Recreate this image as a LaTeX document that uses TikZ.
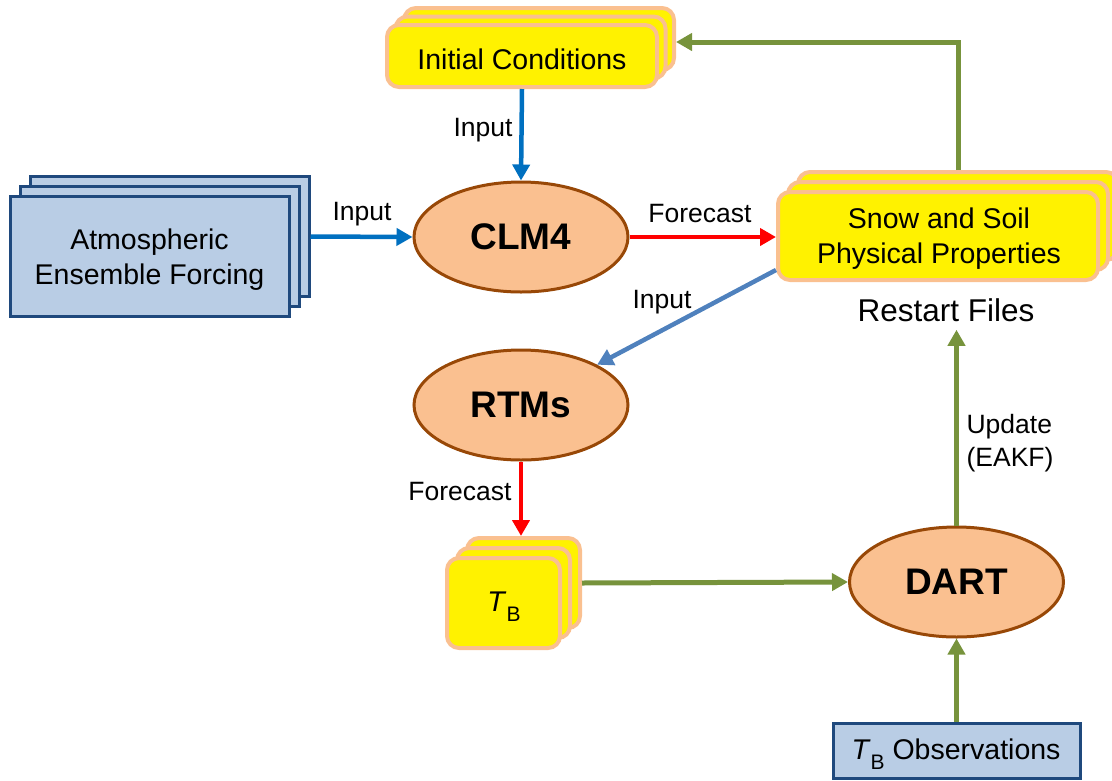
\documentclass[tikz,border=0pt]{standalone}
\usepackage{fontspec}
\setmainfont{Liberation Sans}
\usetikzlibrary{arrows.meta,calc,shapes.geometric}
\definecolor{peach}{RGB}{250,192,144}
\definecolor{brownb}{RGB}{152,72,7}
\definecolor{lblue}{RGB}{185,205,229}
\definecolor{dblue}{RGB}{31,73,125}
\definecolor{abl}{RGB}{0,112,192}
\definecolor{sbl}{RGB}{79,129,189}
\definecolor{agreen}{RGB}{119,147,60}
\definecolor{ared}{RGB}{255,0,0}
\newcommand{\TBsym}{\textit{T}\raisebox{-10pt}{\fontsize{21}{21}\selectfont B}}
\tikzset{
  ybox/.style={draw=peach, fill=yellow, line width=4pt, rounded corners=12pt, inner sep=0pt, align=center},
  bbox/.style={draw=dblue, fill=lblue, line width=3pt, inner sep=0pt, align=center},
  ell/.style={ellipse, draw=brownb, fill=peach, line width=3pt, minimum width=214pt, minimum height=110pt, inner sep=0pt, font=\fontsize{37}{40}\selectfont\bfseries},
  boxfont/.style={font=\fontsize{28.5}{35}\selectfont, inner sep=0pt, align=center},
  lbl/.style={font=\fontsize{26.5}{33}\selectfont, inner sep=0pt},
  arr/.style={line width=4.5pt, -{Triangle[length=16pt,width=17pt]}},
}
\begin{document}
\begin{tikzpicture}[x=1pt,y=-1pt]
\useasboundingbox (0,0) rectangle (1112,780);
% Initial conditions stack
\node[ybox, minimum width=270pt, minimum height=62pt] (ic3) at (539,39) {};
\node[ybox, minimum width=270pt, minimum height=62pt] (ic2) at (530.5,47.5) {};
\node[ybox, minimum width=270pt, minimum height=62pt] (ic) at (522,56) {};
\node[boxfont] (ictxt) at (522,59.5) {Initial Conditions};
% Atmospheric stack
\node[bbox, minimum width=279pt, minimum height=120pt] (atm3) at (169.5,236.5) {};
\node[bbox, minimum width=279pt, minimum height=120pt] (atm2) at (159.5,246.5) {};
\node[bbox, minimum width=279pt, minimum height=120pt] (atm) at (149.5,256.5) {};
\node[boxfont] (atmtxt) at (149.5,259.5) {Atmospheric\\Ensemble Forcing};
% Snow stack
\node[ybox, minimum width=320pt, minimum height=88pt] (snow3) at (958,216) {};
\node[ybox, minimum width=320pt, minimum height=88pt] (snow2) at (948,226) {};
\node[ybox, minimum width=320pt, minimum height=88pt] (snow) at (938,236) {};
\node[boxfont] (snowtxt) at (939,239) {Snow and Soil\\Physical Properties};
\node[font=\fontsize{31.5}{34}\selectfont, inner sep=0pt] (restart) at (946,310) {Restart Files};
% TB stack
\node[ybox, minimum width=113pt, minimum height=90pt] (tb3) at (523.5,583) {};
\node[ybox, minimum width=113pt, minimum height=90pt] (tb2) at (513.5,593) {};
\node[ybox, minimum width=113pt, minimum height=90pt] (tb) at (503.5,603) {};
\node[boxfont] (tbtxt) at (504,607) {\TBsym};
% TB observations
\node[bbox, minimum width=247pt, minimum height=55pt] (obs) at (956.5,750.5) {};
\node[boxfont] (obstxt) at (956,754) {\TBsym\ Observations};
% ellipses
\node[ell] (clm) at (521,237) {CLM4};
\node[ell] (rtm) at (521,405) {RTMs};
\node[ell] (dart) at (956.5,582) {DART};
% connectors
\draw[arr, abl] (ic.south) -- (clm.north);
\draw[arr, abl] (atm3.east) -- (clm.west);
\draw[arr, ared] (clm.east) -- (clm.east -| snow.west);
\draw[arr, sbl] ($(snow.south west)+(0,-12)$) -- (rtm);
\draw[arr, ared] (rtm.south) -- (rtm.south |- tb3.north);
\draw[arr, agreen, line width=5pt] (tb3.east) -- (dart.west);
\draw[arr, agreen, line width=5pt] (obs.north) -- (dart.south);
\draw[arr, agreen, line width=5pt] (dart.north) -- ($(dart.north |- restart.south)+(0,8)$);
\draw[arr, agreen, line width=5pt] (snow3.north) |- ($(ic3.east)+(0,3)$);
% labels
\node[lbl] (l1) at (483,130) {Input};
\node[lbl] (l2) at (362,214) {Input};
\node[lbl] (l3) at (700,214) {Forecast};
\node[lbl] (l4) at (662,302) {Input};
\node[lbl] (l5) at (460,492) {Forecast};
\node[lbl, align=left] (l6) at (1010,443) {Update\\(EAKF)};
\end{tikzpicture}
\end{document}
